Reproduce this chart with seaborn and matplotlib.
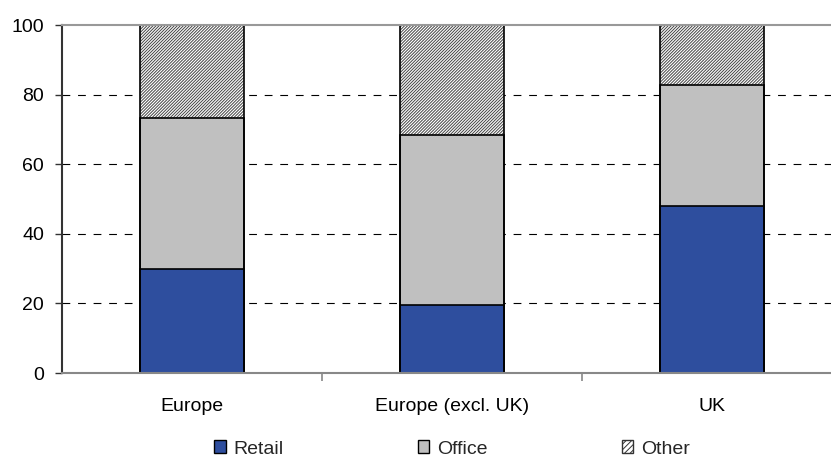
import numpy as np
import pandas as pd
import matplotlib.pyplot as plt
import seaborn as sns
from matplotlib.patches import Patch

# ==============================
# Data (share of total, %)
# ==============================
categories = ["Europe", "Europe (excl. UK)", "UK"]
retail = [29.8, 19.5, 48.1]
office = [43.6, 49.0, 34.7]
other = [26.6, 31.5, 17.2]
y_ticks = [0, 20, 40, 60, 80, 100]
legend_labels = ["Retail", "Office", "Other"]

# colours
c_retail = "#2E4E9E"
c_office = "#C0C0C0"

sns.set_style("white")
plt.rcParams["font.family"] = ["Liberation Sans", "DejaVu Sans"]
plt.rcParams["hatch.linewidth"] = 0.7

df = pd.DataFrame({"region": categories, "Retail": retail, "Office": office, "Other": other})
df["top_office"] = df["Retail"] + df["Office"]
df["top_other"] = df["top_office"] + df["Other"]

fig = plt.figure(figsize=(8.31, 4.58), dpi=100)
ax = fig.add_axes([62 / 831, 85 / 458, 780 / 831, 348 / 458])

# dashed grid lines behind the bars
for yv in y_ticks[1:-1]:
    ax.axhline(yv, color="black", linewidth=0.8, linestyle=(0, (7, 7)), zorder=0)

# stacked bars, drawn from the top layer down
sns.barplot(data=df, x="region", y="top_other", color="white", edgecolor="#444444",
            linewidth=0, hatch="///////////", width=0.4, saturation=1, errorbar=None, ax=ax)
sns.barplot(data=df, x="region", y="top_office", color=c_office, edgecolor="black",
            linewidth=1.2, width=0.4, saturation=1, errorbar=None, ax=ax)
sns.barplot(data=df, x="region", y="Retail", color=c_retail, edgecolor="black",
            linewidth=1.2, width=0.4, saturation=1, errorbar=None, ax=ax)
sns.barplot(data=df, x="region", y="top_other", color="black", fill=False,
            linewidth=1.2, width=0.4, errorbar=None, ax=ax)

ax.set_xlim(-0.5, 2.5)
ax.set_ylim(0, 100)
ax.set_yticks(y_ticks)
ax.set_xlabel("")
ax.set_ylabel("")

for side in ["left", "bottom", "top"]:
    ax.spines[side].set_visible(True)
ax.spines["left"].set_color("#333333")
ax.spines["left"].set_linewidth(1.5)
ax.spines["bottom"].set_color("#888888")
ax.spines["bottom"].set_linewidth(1.5)
ax.spines["top"].set_color("#999999")
ax.spines["top"].set_linewidth(1.5)
ax.spines["right"].set_visible(False)

ax.set_xticks([0.5, 1.5], minor=True)
ax.tick_params(axis="y", left=True, length=5, width=1, color="#333333", pad=8,
               labelsize=14, labelcolor="black")
ax.tick_params(axis="x", which="major", bottom=True, length=0, pad=18,
               labelsize=14, labelcolor="black")
ax.tick_params(axis="x", which="minor", bottom=True, length=6, width=1.2, color="#888888")

handles = [
    Patch(facecolor=c_retail, edgecolor="black", linewidth=1.0),
    Patch(facecolor=c_office, edgecolor="black", linewidth=1.0),
    Patch(facecolor="white", edgecolor="#333333", linewidth=1.0, hatch="//////"),
]
fig.legend(handles, legend_labels, loc="center", bbox_to_anchor=(452 / 831, 1 - 449 / 458),
           ncol=3, frameon=False, fontsize=14, handlelength=0.6, handleheight=0.6,
           handletextpad=0.4, columnspacing=6.9, borderaxespad=0, borderpad=0)

fig.savefig("out.png", dpi=100)
